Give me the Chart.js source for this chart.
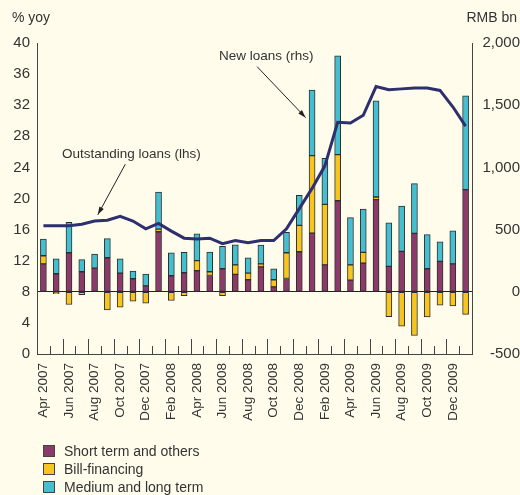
<!DOCTYPE html>
<html>
<head>
<meta charset="utf-8">
<script src="https://cdn.jsdelivr.net/npm/chart.js@4.4.1/dist/chart.umd.min.js"></script>
<style>
  body { margin: 0; background: #fffcec; }
  #wrap { position: relative; width: 520px; height: 495px; }
  #legend { position: absolute; left: 43px; top: 442px; font: 14px "Liberation Sans", Arial, sans-serif; color: #333; }
  .item { height: 18px; display: flex; align-items: center; }
  .box { width: 10px; height: 10px; border: 1px solid #444; margin-right: 9px; }
</style>
</head>
<body>
<div id="wrap">
  <canvas id="myChart" width="520" height="495"></canvas>
  <div id="legend"></div>
</div>
<script>
// DATA
let months = [
  "Apr 2007", "May 2007", "Jun 2007", "Jul 2007", "Aug 2007", "Sep 2007", "Oct 2007", "Nov 2007", "Dec 2007",
  "Jan 2008", "Feb 2008", "Mar 2008", "Apr 2008", "May 2008", "Jun 2008", "Jul 2008", "Aug 2008", "Sep 2008",
  "Oct 2008", "Nov 2008", "Dec 2008", "Jan 2009", "Feb 2009", "Mar 2009", "Apr 2009", "May 2009", "Jun 2009",
  "Jul 2009", "Aug 2009", "Sep 2009", "Oct 2009", "Nov 2009", "Dec 2009", "Jan 2010"
];
// new loans, RMB bn (rhs)
let shortTerm = [225, 145, 314, 161, 190, 274, 150, 105, 48, 483, 129, 153, 169, 131, 185, 140, 97, 201, 40, 107, 322, 472, 217, 732, 94, 231, 741, 204, 325, 470, 185, 244, 225, 821];
let billFinancing = [65, -16, -102, -24, 0, -145, -123, -75, -91, 21, -70, -32, 81, 30, -32, 77, 53, 24, 57, 207, 212, 623, 486, 371, 123, 86, 21, -199, -276, -351, -201, -107, -113, -182];
let mediumLong = [134, 121, 244, 97, 113, 153, 116, 61, 94, 298, 185, 164, 217, 158, 180, 161, 124, 151, 88, 164, 241, 526, 370, 794, 379, 348, 773, 351, 365, 399, 274, 158, 266, 754];
// outstanding loans, % yoy (lhs)
let outstanding = [16.5, 16.5, 16.5, 16.7, 17.1, 17.2, 17.7, 17.1, 16.1, 16.8, 15.8, 14.9, 14.8, 14.9, 14.2, 14.6, 14.3, 14.6, 14.6, 16.1, 18.7, 21.3, 24.2, 29.8, 29.7, 30.7, 34.4, 34.0, 34.1, 34.2, 34.2, 33.9, 31.8, 29.3];

let leftTicks = { min: 0, max: 40, step: 4 };
let rightTicks = { min: -500, max: 2000, step: 500 };

const FONT = '"Liberation Sans", Arial, sans-serif';
const TEXT = "#333";

// arrow + label helper
function arrow(ctx, x1, y1, x2, y2) {
  ctx.beginPath();
  ctx.moveTo(x1, y1);
  ctx.lineTo(x2, y2);
  ctx.stroke();
  let a = Math.atan2(y2 - y1, x2 - x1);
  ctx.beginPath();
  ctx.moveTo(x2, y2);
  ctx.lineTo(x2 - 8 * Math.cos(a) + 2.5 * Math.sin(a), y2 - 8 * Math.sin(a) - 2.5 * Math.cos(a));
  ctx.lineTo(x2 - 8 * Math.cos(a) - 2.5 * Math.sin(a), y2 - 8 * Math.sin(a) + 2.5 * Math.cos(a));
  ctx.closePath();
  ctx.fill();
}

const extras = {
  id: "extras",
  afterDraw(chart) {
    let { ctx, chartArea, scales } = chart;
    let x = scales.x, yl = scales.y, yr = scales.y1;
    ctx.save();

    // x ticks on month boundaries, long before labelled months
    ctx.strokeStyle = "#444";
    ctx.lineWidth = 1;
    for (let i = 1; i < months.length; i++) {
      let px = Math.round((x.getPixelForValue(i - 1) + x.getPixelForValue(i)) / 2) + 0.5;
      let len = i % 2 === 0 ? 15 : 8;
      ctx.beginPath();
      ctx.moveTo(px, chartArea.bottom);
      ctx.lineTo(px, chartArea.bottom - len);
      ctx.stroke();
    }

    // axis titles
    ctx.fillStyle = TEXT;
    ctx.font = "14px " + FONT;
    ctx.textBaseline = "middle";
    ctx.textAlign = "left";
    ctx.fillText("% yoy", 12, 18);
    ctx.textAlign = "right";
    ctx.fillText("RMB bn", 517, 18);

    // annotations
    ctx.font = "13.5px " + FONT;
    ctx.textAlign = "left";
    ctx.fillText("Outstanding loans (lhs)", 62, 154);
    ctx.fillText("New loans (rhs)", 219, 56);
    ctx.strokeStyle = "#222";
    ctx.fillStyle = "#222";
    arrow(ctx, x.getPixelForValue(6.4), yl.getPixelForValue(24.4), x.getPixelForValue(4.25), yl.getPixelForValue(17.9));
    arrow(ctx, x.getPixelForValue(16.7), yr.getPixelForValue(1810), x.getPixelForValue(20.5), yr.getPixelForValue(1400));
    ctx.restore();
  }
};

let chart = new Chart(document.getElementById("myChart").getContext("2d"), {
  data: {
    labels: months,
    datasets: [
      {
        type: "line",
        label: "Outstanding loans (lhs)",
        data: outstanding,
        yAxisID: "y",
        borderColor: "#2d2f6e",
        borderWidth: 3,
        pointRadius: 0,
        tension: 0,
        order: 0
      },
      {
        type: "bar",
        label: "Short term and others",
        data: shortTerm,
        yAxisID: "y1",
        backgroundColor: "#8c3a6a",
        borderColor: "#2e2e2e",
        borderWidth: 1,
        borderSkipped: false,
        barThickness: 6,
        order: 1
      },
      {
        type: "bar",
        label: "Bill-financing",
        data: billFinancing,
        yAxisID: "y1",
        backgroundColor: "#f7c520",
        borderColor: "#2e2e2e",
        borderWidth: 1,
        borderSkipped: false,
        barThickness: 6,
        order: 1
      },
      {
        type: "bar",
        label: "Medium and long term",
        data: mediumLong,
        yAxisID: "y1",
        backgroundColor: "#45bfd0",
        borderColor: "#2e2e2e",
        borderWidth: 1,
        borderSkipped: false,
        barThickness: 6,
        order: 1
      }
    ]
  },
  options: {
    responsive: false,
    animation: false,
    layout: { padding: { top: 43, right: 0, left: 0, bottom: 0 } },
    plugins: { legend: { display: false }, tooltip: { enabled: false } },
    scales: {
      x: {
        stacked: true,
        offset: true,
        grid: { display: false, drawTicks: false },
        border: { display: true, color: "#444" },
        ticks: {
          autoSkip: false,
          maxRotation: 90,
          minRotation: 90,
          padding: 9,
          color: TEXT,
          font: { family: FONT, size: 13.5 },
          callback: (v, i) => (i % 2 === 0 ? months[i] : "")
        },
        afterFit: s => { s.height = 141; }
      },
      y: {
        position: "left",
        min: leftTicks.min,
        max: leftTicks.max,
        grid: { display: false, drawTicks: false },
        border: { display: true, color: "#444" },
        ticks: { stepSize: leftTicks.step, padding: 7, color: TEXT, font: { family: FONT, size: 15 } },
        afterFit: s => { s.width = 37; }
      },
      y1: {
        position: "right",
        stacked: true,
        min: rightTicks.min,
        max: rightTicks.max,
        grid: {
          drawTicks: false,
          color: c => (c.tick && c.tick.value === 0 ? "#222" : "rgba(0,0,0,0)")
        },
        border: { display: true, color: "#444" },
        ticks: {
          stepSize: rightTicks.step,
          padding: 7,
          crossAlign: "far",
          color: TEXT,
          font: { family: FONT, size: 15 },
          callback: v => v.toLocaleString("en-US")
        },
        afterFit: s => { s.width = 48; }
      }
    }
  },
  plugins: [extras]
});

// LEGEND (bars only)
let legend = document.getElementById("legend");
chart.data.datasets.filter(d => d.type === "bar").forEach(d => {
  let item = document.createElement("div");
  item.className = "item";
  let box = document.createElement("span");
  box.className = "box";
  box.style.background = d.backgroundColor;
  let label = document.createElement("span");
  label.textContent = d.label;
  item.appendChild(box);
  item.appendChild(label);
  legend.appendChild(item);
});
</script>
</body>
</html>
